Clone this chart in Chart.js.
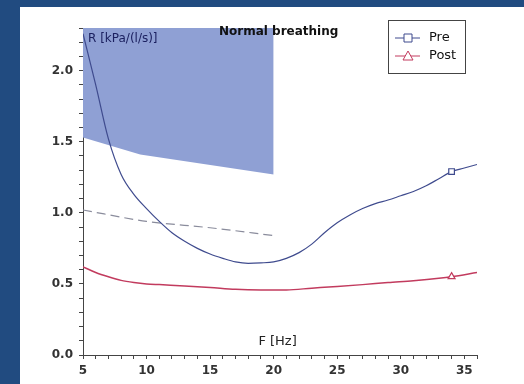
<!DOCTYPE html>
<html>
<head>
<meta charset="utf-8">
<script src="https://cdn.jsdelivr.net/npm/chart.js@4"></script>
<style>
  html, body { margin: 0; padding: 0; }
  body { width: 524px; height: 384px; background: #214b80; position: relative; overflow: hidden; }
  #wrap { position: absolute; left: 20px; top: 7px; width: 504px; height: 377px; background: #ffffff; }
</style>
</head>
<body>
<div id="wrap"><canvas id="chart"></canvas></div>
<script>
// frequency (Hz) and resistance R (kPa/(l/s))
const preF = [5, 6, 7, 8, 9, 10, 11, 12, 13, 14, 15, 16, 17, 18, 19, 20, 21, 22, 23, 24, 25, 26, 27, 28, 29, 30, 31, 32, 33, 34, 35, 36];
const preR = [2.26, 1.9, 1.52, 1.27, 1.13, 1.03, 0.94, 0.86, 0.8, 0.75, 0.71, 0.68, 0.655, 0.645, 0.648, 0.655, 0.68, 0.72, 0.78, 0.86, 0.93, 0.985, 1.03, 1.065, 1.09, 1.12, 1.15, 1.19, 1.24, 1.29, 1.315, 1.34];

const postF = [5, 6, 7, 8, 9, 10, 11, 13, 15, 17, 19, 21, 23, 25, 27, 29, 31, 33, 34, 36];
const postR = [0.62, 0.58, 0.55, 0.525, 0.51, 0.5, 0.495, 0.486, 0.475, 0.462, 0.458, 0.458, 0.47, 0.482, 0.495, 0.51, 0.523, 0.54, 0.551, 0.58];

// dashed reference line
const refF = [5, 10, 15, 20];
const refR = [1.02, 0.94, 0.895, 0.84];

// lower edge of the "Normal breathing" band (band reaches the top of the plot)
const normalF = [5, 9.5, 20];
const normalR = [1.53, 1.41, 1.27];

const markerF = 34;
const xTicks = [5, 10, 15, 20, 25, 30, 35];
const yTicks = [0.0, 0.5, 1.0, 1.5, 2.0];

const toXY = (xs, ys) => xs.map((x, i) => ({ x: x, y: ys[i] }));

const preColor = '#3f4b8e';
const postColor = '#c23b5e';
const tickFont = { family: 'DejaVu Sans', size: 12, weight: 'bold' };

const textPlugin = {
    id: 'figText',
    afterDatasetsDraw(chart) {
        const ctx = chart.ctx;
        const xs = chart.scales.x;
        const ys = chart.scales.y;
        ctx.save();
        ctx.textBaseline = 'middle';
        ctx.textAlign = 'left';

        ctx.fillStyle = '#1c2160';
        ctx.font = '12px "DejaVu Sans"';
        ctx.fillText('R [kPa/(l/s)]', xs.getPixelForValue(5) + 5, ys.getPixelForValue(2.3) + 11);

        ctx.fillStyle = '#111';
        ctx.font = 'bold 12px "DejaVu Sans"';
        ctx.fillText('Normal breathing', xs.getPixelForValue(15.7), ys.getPixelForValue(2.3) + 4);

        ctx.fillStyle = '#222';
        ctx.font = '13px "DejaVu Sans"';
        ctx.fillText('F [Hz]', xs.getPixelForValue(18.8), ys.getPixelForValue(0) - 13);

        // legend box
        const bx = 368, by = 13, bw = 77, bh = 53;
        ctx.strokeStyle = '#444';
        ctx.lineWidth = 1;
        ctx.fillStyle = '#fff';
        ctx.fillRect(bx, by, bw, bh);
        ctx.strokeRect(bx + 0.5, by + 0.5, bw, bh);

        const items = [
            { label: chart.data.datasets[0].label, color: preColor, shape: 'rect', y: by + 18 },
            { label: chart.data.datasets[1].label, color: postColor, shape: 'triangle', y: by + 36 }
        ];
        items.forEach(it => {
            ctx.strokeStyle = it.color;
            ctx.lineWidth = 1;
            ctx.beginPath();
            ctx.moveTo(bx + 7, it.y);
            ctx.lineTo(bx + 32, it.y);
            ctx.stroke();
            ctx.fillStyle = '#fff';
            ctx.beginPath();
            if (it.shape === 'rect') {
                ctx.rect(bx + 16, it.y - 4, 8, 8);
            } else {
                ctx.moveTo(bx + 20, it.y - 5);
                ctx.lineTo(bx + 25, it.y + 4);
                ctx.lineTo(bx + 15, it.y + 4);
                ctx.closePath();
            }
            ctx.fill();
            ctx.stroke();
            ctx.fillStyle = '#111';
            ctx.font = '13px "DejaVu Sans"';
            ctx.fillText(it.label, bx + 41, it.y);
        });
        ctx.restore();
    }
};

const markerRadius = ctx => (ctx.raw && ctx.raw.x === markerF ? 4 : 0);

new Chart(document.getElementById('chart'), {
    type: 'line',
    data: {
        datasets: [
            {
                label: 'Pre',
                data: toXY(preF, preR),
                borderColor: preColor,
                borderWidth: 1.2,
                backgroundColor: '#fff',
                pointStyle: 'rect',
                pointRadius: markerRadius,
                pointBorderWidth: 1.2,
                cubicInterpolationMode: 'monotone',
                fill: false,
                order: 1
            },
            {
                label: 'Post',
                data: toXY(postF, postR),
                borderColor: postColor,
                borderWidth: 1.5,
                backgroundColor: '#fff',
                pointStyle: 'triangle',
                pointRadius: markerRadius,
                pointBorderWidth: 1.2,
                cubicInterpolationMode: 'monotone',
                fill: false,
                order: 1
            },
            {
                label: 'ref',
                data: toXY(refF, refR),
                borderColor: '#8a8c9c',
                borderWidth: 1.2,
                borderDash: [9, 5],
                pointRadius: 0,
                cubicInterpolationMode: 'monotone',
                fill: false,
                order: 2
            },
            {
                label: 'Normal breathing',
                data: toXY(normalF, normalR),
                borderWidth: 0,
                borderColor: 'rgba(0,0,0,0)',
                backgroundColor: '#8fa0d4',
                pointRadius: 0,
                tension: 0,
                fill: 'end',
                order: 3
            }
        ]
    },
    options: {
        responsive: true,
        maintainAspectRatio: false,
        animation: false,
        layout: { padding: { top: 21, right: 47, left: 0, bottom: 0 } },
        plugins: {
            legend: { display: false },
            tooltip: { enabled: false }
        },
        scales: {
            x: {
                type: 'linear',
                min: 5,
                max: 36,
                afterFit: s => { s.height = 29; },
                border: { display: true, color: '#444', width: 1 },
                grid: { drawOnChartArea: false, drawTicks: true, tickLength: 4, color: '#444' },
                ticks: {
                    stepSize: 1,
                    autoSkip: false,
                    maxRotation: 0,
                    padding: 5,
                    color: '#333',
                    font: tickFont,
                    callback: v => (xTicks.includes(v) ? String(v) : '')
                }
            },
            y: {
                min: 0,
                max: 2.3,
                afterFit: s => { s.width = 63; },
                border: { display: true, color: '#444', width: 1 },
                grid: { drawOnChartArea: false, drawTicks: true, tickLength: 4, color: '#444' },
                ticks: {
                    stepSize: 0.1,
                    autoSkip: false,
                    padding: 6,
                    color: '#333',
                    font: tickFont,
                    callback: v => {
                        const hit = yTicks.find(t => Math.abs(t - v) < 1e-6);
                        return hit !== undefined ? hit.toFixed(1) : '';
                    }
                }
            }
        }
    },
    plugins: [textPlugin]
});
</script>
</body>
</html>
